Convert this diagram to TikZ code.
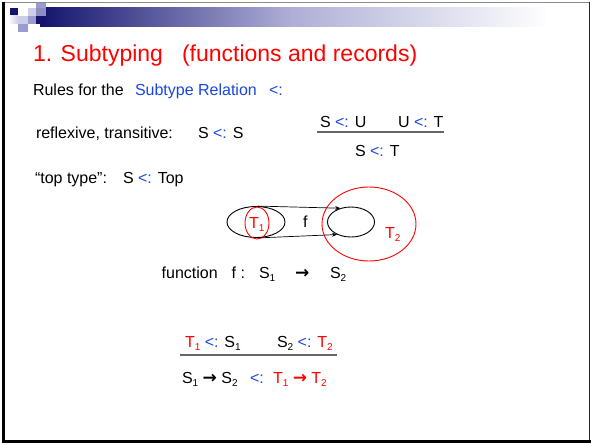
\documentclass[tikz,border=0pt]{standalone}
\usepackage{fontspec}
\setmainfont{Liberation Sans}
\newfontfamily\arrfont{DejaVu Sans}
\usetikzlibrary{shapes.geometric,arrows.meta}
\definecolor{relblue}{RGB}{25,70,225}
\definecolor{slred}{RGB}{255,0,0}
\definecolor{navyd}{RGB}{20,20,110}
\definecolor{lavl}{RGB}{205,205,232}
\definecolor{lavm}{RGB}{155,155,205}
\newcommand\bodyfont{\fontsize{16}{19}\selectfont}
\newcommand\sbs[1]{\raisebox{-3.5pt}{\fontsize{10}{12}\selectfont #1}}
\newcommand\arr{{\arrfont\bfseries\fontsize{17}{19}\selectfont →}}
\newcommand\isub{{\color{relblue}<:}}
\begin{document}
\begin{tikzpicture}[x=1pt,y=-1pt,
  txt/.style={inner sep=0pt, outer sep=0pt, anchor=base west, font=\bodyfont},
  ttl/.style={inner sep=0pt, outer sep=0pt, anchor=base west, font=\fontsize{23}{27}\selectfont, text=slred},
  blk/.style={ellipse, draw=black, line width=0.9pt, inner sep=0pt},
  redell/.style={ellipse, draw=slred, line width=0.9pt, inner sep=0pt},
  maparr/.style={-{Stealth[length=5pt,width=4pt]}, line width=0.7pt},
  rule/.style={line width=1.4pt, draw=black!60}]
\useasboundingbox (0,0) rectangle (591,444);
% header decoration
\shade[left color=navyd, right color=white!97!lavl, middle color=lavm!80!white] (40,8) rectangle (545,27);
\fill[navyd] (10,8) rectangle (18,16);
\fill[lavl] (28,8) rectangle (36,16);
\fill[lavm] (36,2) rectangle (46,8);
\fill[lavm!90!navyd] (36,8) rectangle (46,16);
\shade[left color=white, right color=lavl] (8,16) rectangle (18,24);
\fill[lavl] (18,16) rectangle (28,24);
\fill[lavm] (28,16) rectangle (36,24);
\fill[navyd] (36,16) rectangle (46,24);
\fill[lavm] (18,24) rectangle (28,32);
% title
\node[ttl] (title1) at (33,62) {1. Subtyping};
\node[ttl] (title2) at (182,62) {(functions and records)};
% rules
\node[txt] (rules) at (33,95) {Rules for the};
\node[txt, text=relblue] (rel) at (135,95) {Subtype Relation};
\node[txt, text=relblue] (relsym) at (269,95) {<:};
\node[txt] (refl) at (36,138) {reflexive, transitive:};
\node[txt] (reflf) at (198,138) {S \isub{} S};
\node[txt] (top) at (35,183) {“top type”:};
\node[txt] (topf) at (123,183) {S \isub{} Top};
\node[txt] (p1) at (320,127) {S \isub{} U};
\node[txt] (p2) at (398,127) {U \isub{} T};
\draw[rule] (317,132) -- (444,132);
\node[txt] (c1) at (355,156) {S \isub{} T};
% diagram
\node[blk, minimum width=58pt, minimum height=31pt] (L) at (256,222) {};
\node[redell, minimum width=24pt, minimum height=32pt] (T1e) at (257,223) {};
\node[txt, text=slred] (T1) at (249,228) {T\sbs1};
\node[txt] (f) at (303,227) {f};
\node[blk, minimum width=47pt, minimum height=30pt] (R) at (351,222) {};
\node[redell, minimum width=94pt, minimum height=74pt] (T2e) at (369,224) {};
\node[txt, text=slred] (T2) at (385,238) {T\sbs2};
\draw[maparr] (L.84) -- (R.128);
\draw[maparr] (L.-80) -- (R.-138);
% function line
\node[txt] (fun) at (161.7,278) {function};
\node[txt] (fcol) at (231.7,278) {f :};
\node[txt] (s1) at (259,278) {S\sbs1};
\node[txt] (farr) at (295,278) {\arr};
\node[txt] (s2) at (330,278) {S\sbs2};
% function subtyping rule
\node[txt] (q1) at (185,347) {{\color{slred}T\sbs1} \isub{} S\sbs1};
\node[txt] (q2) at (277,347) {S\sbs2 \isub{} {\color{slred}T\sbs2}};
\draw[rule, line width=1.2pt] (180,355) -- (337,355);
\node[txt] (d1) at (182,383) {S\sbs1 \arr{} S\sbs2};
\node[txt] (d2) at (250,383) {\isub};
\node[txt, text=slred] (d3) at (273,383) {T\sbs1 \arr{} T\sbs2};
% slide frame
\draw[black!45, line width=1pt] (2,2.5) -- (590,2.5);
\draw[black!85, line width=1.5pt] (589.5,2) -- (589.5,443);
\draw[black, line width=3pt] (3.5,2) -- (3.5,443);
\draw[black, line width=3pt] (2,441.5) -- (591,441.5);
\end{tikzpicture}
\end{document}
